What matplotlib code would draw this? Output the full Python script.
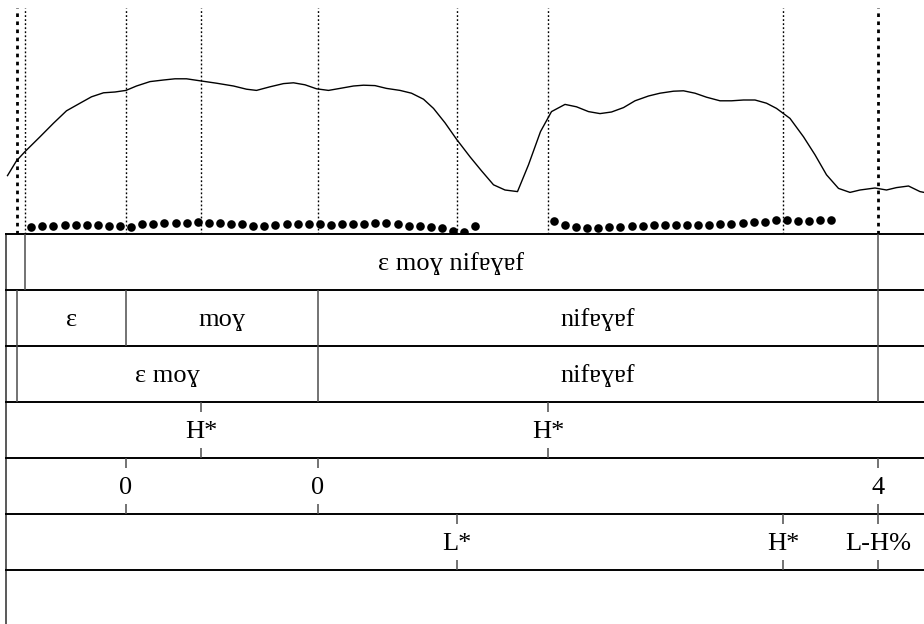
import numpy as np
import matplotlib
matplotlib.use("Agg")
import matplotlib.pyplot as plt

plt.rcParams['font.family'] = ['Liberation Serif', 'DejaVu Serif']

# time window shown (s)
T_MIN, T_MAX = 0.0, 1.836
T_END = 1.95  # end of the textgrid, past the cropped right edge

# intensity contour (s, dB)
int_t = [0.003, 0.021, 0.038, 0.068, 0.095, 0.121, 0.148, 0.171, 0.195, 0.218,
         0.240, 0.261, 0.288, 0.315, 0.338, 0.361, 0.388, 0.421, 0.455, 0.481,
         0.501, 0.528, 0.555, 0.575, 0.598, 0.621, 0.645, 0.668, 0.695, 0.715,
         0.738, 0.761, 0.788, 0.811, 0.835, 0.855, 0.878, 0.901, 0.928, 0.951,
         0.975, 0.998, 1.023, 1.045, 1.069, 1.091, 1.118, 1.141, 1.165, 1.188,
         1.211, 1.235, 1.258, 1.285, 1.308, 1.335, 1.355, 1.378, 1.401, 1.428,
         1.451, 1.475, 1.498, 1.521, 1.541, 1.568, 1.595, 1.618, 1.641, 1.665,
         1.688, 1.708, 1.738, 1.761, 1.781, 1.805, 1.828, 1.840]
int_db = [56.1, 59.8, 62.1, 65.8, 69.2, 72.3, 74.2, 75.8, 76.8, 77.0,
          77.4, 78.5, 79.6, 80.0, 80.3, 80.3, 79.8, 79.2, 78.5, 77.7,
          77.4, 78.3, 79.1, 79.3, 78.8, 77.8, 77.4, 77.9, 78.5, 78.7,
          78.6, 77.9, 77.4, 76.7, 75.2, 72.9, 69.3, 65.2, 60.8, 57.3,
          53.8, 52.5, 52.1, 58.8, 67.1, 72.1, 73.9, 73.3, 72.1, 71.6,
          72.0, 73.1, 74.8, 76.0, 76.7, 77.2, 77.3, 76.7, 75.7, 74.8,
          74.8, 75.0, 75.0, 74.2, 72.9, 70.4, 65.8, 61.3, 56.3, 52.9,
          51.9, 52.5, 53.0, 52.5, 53.1, 53.5, 52.1, 51.8]

# pitch track (s, Hz), two voiced stretches
pitch_t1 = [0.050, 0.072, 0.094, 0.117, 0.139, 0.161, 0.183, 0.205, 0.228, 0.250,
            0.272, 0.294, 0.316, 0.339, 0.361, 0.383, 0.405, 0.427, 0.450, 0.472,
            0.494, 0.516, 0.538, 0.561, 0.583, 0.605, 0.627, 0.649, 0.672, 0.694,
            0.716, 0.738, 0.760, 0.783, 0.805, 0.827, 0.849, 0.871, 0.894, 0.916,
            0.938]
pitch_f1 = [123.3, 124.3, 124.3, 124.7, 124.7, 124.7, 124.7, 124.3, 124.0, 123.0,
            125.7, 126.3, 126.7, 127.0, 127.3, 127.7, 127.3, 127.0, 126.3, 125.7,
            124.3, 124.0, 124.7, 126.0, 126.3, 126.3, 126.0, 124.7, 125.7, 126.3,
            126.3, 127.0, 127.0, 125.7, 124.3, 123.7, 122.7, 122.3, 119.3, 117.7,
            124.3]
pitch_t2 = [1.095, 1.117, 1.140, 1.162, 1.184, 1.206, 1.228, 1.251, 1.273, 1.295,
            1.317, 1.339, 1.362, 1.384, 1.406, 1.428, 1.450, 1.473, 1.495, 1.517,
            1.539, 1.561, 1.584, 1.606, 1.628, 1.650]
pitch_f2 = [129.3, 124.7, 122.7, 122.3, 122.0, 122.7, 123.3, 124.3, 124.3, 124.7,
            124.7, 124.7, 124.7, 125.0, 125.3, 125.7, 126.3, 127.0, 127.7, 128.3,
            129.7, 129.7, 129.3, 129.0, 129.7, 129.7]

# textgrid tiers
tier1_bounds = [0.038, 1.744]
tier1_labels = ["", "ε moɣ nifɐɣɐf", ""]
tier2_bounds = [0.022, 0.240, 0.624, 1.744]
tier2_labels = ["", "ε", "moɣ", "nifɐɣɐf", ""]
tier3_bounds = [0.022, 0.624, 1.744]
tier3_labels = ["", "ε moɣ", "nifɐɣɐf", ""]
tier4_times = [0.390, 1.084]
tier4_labels = ["H*", "H*"]
tier5_times = [0.240, 0.624, 1.744]
tier5_labels = ["0", "0", "4"]
tier6_times = [0.902, 1.554, 1.744]
tier6_labels = ["L*", "H*", "L-H%"]

tiers = [("interval", tier1_bounds, tier1_labels),
         ("interval", tier2_bounds, tier2_labels),
         ("interval", tier3_bounds, tier3_labels),
         ("point", tier4_times, tier4_labels),
         ("point", tier5_times, tier5_labels),
         ("point", tier6_times, tier6_labels),
         ("point", [], [])]

W, H = 924, 624
fig = plt.figure(figsize=(W / 100, H / 100), dpi=100)

x0 = 6 / W
# top panel: intensity + pitch
ax = fig.add_axes([x0, (H - 234) / H, 1 - x0, (234 - 8) / H])
ax.set_xlim(T_MIN, T_MAX)
ax.set_ylim(41.5, 98)
ax.plot(int_t, int_db, color='black', lw=1)
ax.axis('off')

axp = ax.twinx()
axp.set_ylim(116, 342)
axp.plot(pitch_t1, pitch_f1, 'o', color='black', ms=6.2, mew=0)
axp.plot(pitch_t2, pitch_f2, 'o', color='black', ms=6.2, mew=0)
axp.axis('off')

# dotted boundary lines over the signal panel
all_times = sorted(set(tier1_bounds + tier2_bounds + tier3_bounds
                       + tier4_times + tier5_times + tier6_times))
for t in all_times:
    n = sum(t in b for b in [tier1_bounds, tier2_bounds, tier3_bounds,
                             tier4_times, tier5_times, tier6_times])
    lw = 2.0 if (t in tier2_bounds and t in tier3_bounds and n != 3) or n >= 4 else 1.0
    ax.axvline(t, color='black', lw=lw, ls=(0, (1.3, 1.6)), zorder=0)

# tiers panel
n_tiers = len(tiers)
tier_px = 56
tax = fig.add_axes([x0, (H - 234 - n_tiers * tier_px) / H, 1 - x0, n_tiers * tier_px / H])
tax.set_xlim(T_MIN, T_MAX)
tax.set_ylim(n_tiers, 0)
tax.axis('off')
tax.axvline(T_MIN, color='0.35', lw=1.4, clip_on=False)
for i in range(n_tiers):
    tax.axhline(i, color='black', lw=1.4, clip_on=False)

tick = 10 / tier_px
base = 8 / tier_px
for i, (kind, times, labels) in enumerate(tiers):
    top, bot = i, i + 1
    if kind == "interval":
        edges = [T_MIN] + times + [T_END]
        for b in times:
            tax.vlines(b, top, bot, color='0.3', lw=1.1)
        for lab, a, b in zip(labels, edges[:-1], edges[1:]):
            if lab:
                tax.text((a + b) / 2, top + 0.5 + base, lab, ha='center',
                         va='baseline', fontsize=19)
    else:
        for t, lab in zip(times, labels):
            tax.vlines(t, top, top + tick, color='0.3', lw=1.1)
            tax.vlines(t, bot - tick, bot, color='0.3', lw=1.1)
            tax.text(t, top + 0.5 + base, lab, ha='center', va='baseline', fontsize=19)

fig.savefig("out.png", dpi=100)
